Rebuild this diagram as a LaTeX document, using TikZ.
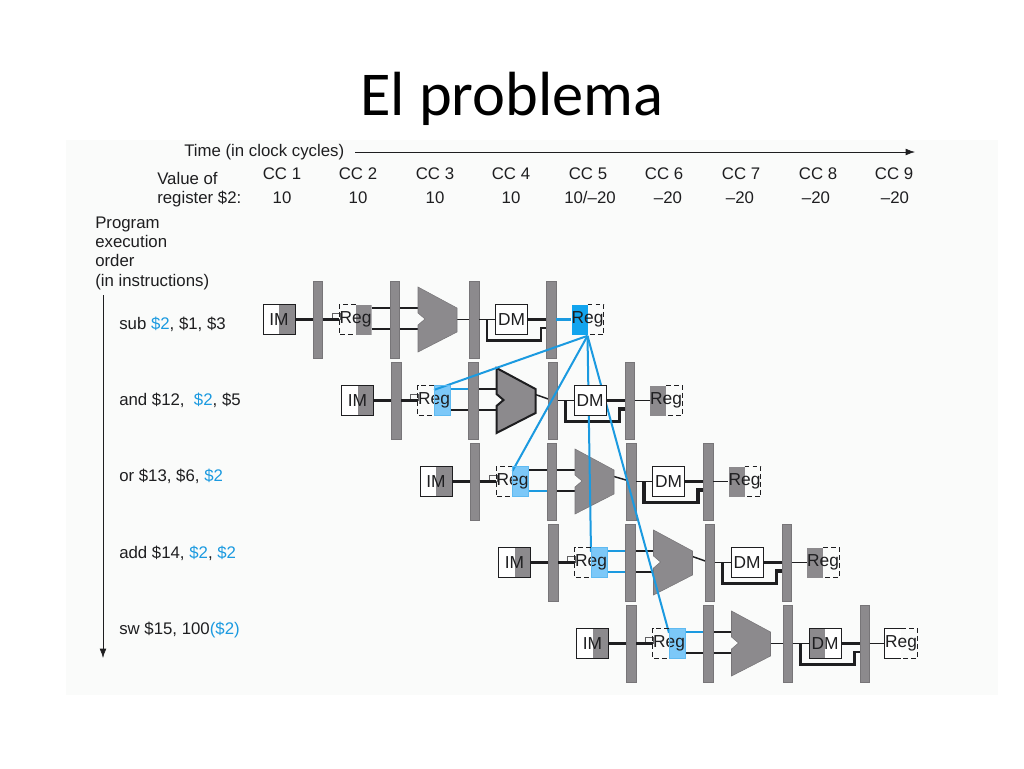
\documentclass[tikz,border=0pt]{standalone}
\usepackage{fontspec}
\usetikzlibrary{arrows.meta}
\setmainfont{Liberation Sans}
\newfontfamily\titlefont{Carlito}
\definecolor{ink}{HTML}{1E1E20}
\definecolor{barg}{HTML}{8C8A8D}
\definecolor{fblue}{HTML}{1B9AE0}
\definecolor{dblue}{HTML}{12A4EE}
\definecolor{lblue}{HTML}{7CC8F8}
\definecolor{panel}{HTML}{FAFBFA}
\newcommand{\bl}[1]{\textcolor{fblue}{#1}}
\tikzset{
  txt/.style={font=\fontsize{12.6pt}{14pt}\selectfont,text=ink,inner sep=0pt,anchor=base west},
  ctxt/.style={font=\fontsize{12.6pt}{14pt}\selectfont,text=ink,inner sep=0pt,anchor=base},
  pbar/.style={fill=barg,draw=barg!85!black,line width=.3pt,minimum width=7.2pt,minimum height=57.5pt,inner sep=0pt},
  unit/.style={minimum width=24pt,minimum height=22.5pt,inner sep=0pt},
  memo/.style={unit,draw=ink,line width=.5pt,fill=white},
  halfR/.style={path picture={\fill[fill=#1] (path picture bounding box.north) rectangle (path picture bounding box.south east);}},
  halfL/.style={path picture={\fill[fill=#1] (path picture bounding box.north west) rectangle (path picture bounding box.south);}},
  unittext/.style={font=\fontsize{13pt}{14pt}\selectfont,text=ink,inner sep=0pt},
  wire/.style={draw=ink,line width=1.6pt},
  inwire/.style={draw=ink,line width=1.9pt},
  thinwire/.style={draw=ink,line width=1.1pt},
  bwire/.style={draw=fblue,line width=1.9pt},
  alu/.style={fill=barg,draw=barg!85!black,line width=.4pt},
  boldalu/.style={fill=barg,draw=ink,line width=1.5pt},
  dashbox/.style={draw=ink,line width=.45pt,dash pattern=on 3.5pt off 2.5pt},
  fwd/.style={draw=fblue,line width=1.5pt},
}
\begin{document}
\begin{tikzpicture}[x=0.75pt,y=-0.75pt]
\useasboundingbox (0,0) rectangle (1024,768);
\fill[panel] (66,140) rectangle (998,695);
\node[anchor=base,inner sep=0pt,font=\titlefont\fontsize{46.8pt}{52pt}\selectfont,text=black] (title) at (512,115) {El problema};

\node[txt] (time) at (184,156) {Time (in clock cycles)};
\coordinate (timeend) at (915,152);
\coordinate (timestart) at (355,152);
\draw[ink,line width=.5pt,-{Latex[length=7pt,width=5pt]}] (timestart) -- (timeend);
\node[txt] (val1) at (157,184) {Value of};
\node[txt] (val2) at (157,203) {register \$2:};
\foreach \n/\x in {1/282,2/358,3/435,4/511,5/588,6/664,7/741,8/818,9/894}
  \node[ctxt] (cc\n) at (\x,179) {CC \n};
\foreach \n/\x/\v in {1/282/10,2/358/10,3/435/10,4/511/10,5/590/{10/--20},6/668/--20,7/740/--20,8/816/--20,9/895/--20}
  \node[ctxt] (v\n) at (\x,203) {\v};
\node[txt] (pa) at (95,228) {Program};
\node[txt] (pb) at (95,247) {execution};
\node[txt] (pc) at (95,266) {order};
\node[txt] (pd) at (95,286) {(in instructions)};
\coordinate (otop) at (103,295);
\coordinate (obot) at (103,658);
\draw[ink,line width=.5pt,-{Latex[length=7pt,width=5pt]}] (otop) -- (obot);
\node[txt] (i1) at (119,329) {sub \bl{\$2}, \$1, \$3};
\node[txt] (i2) at (119,405) {and \$12,\ \ \bl{\$2}, \$5};
\node[txt] (i3) at (119,481) {or \$13, \$6, \bl{\$2}};
\node[txt] (i4) at (119,558) {add \$14, \bl{\$2}, \bl{\$2}};
\node[txt] (i5) at (119,634) {sw \$15, 100\bl{(\$2)}};

% read and write register fills, and coordinates
\foreach \i/\dx/\dy/\rf/\wf/\sk in {
  1/0/0/barg/dblue/0,
  2/78.5/81/lblue/barg/6,
  3/157/162/lblue/barg/5,
  4/235.5/243/lblue/barg/6,
  5/313.5/324/lblue/white/0}
{
\begin{scope}[shift={(\dx,\dy)}]
  \coordinate (aT\i) at (418,308);
  \coordinate (aB\i) at (418,329);
  \coordinate (aO\i) at (457,319.5-\sk);
  \draw[ink!70,line width=.35pt] (332,313) rectangle (340,319);
  \node[unit,halfR=\rf] (reg\i) at (355.5,319.5) {};
  \node[unit,halfL=\wf] (wb\i) at (587.5,319.5) {};
  \foreach \b/\x in {1/317.5,2/394.5,3/474,4/551}
    \coordinate (barc\b r\i) at (\x,319.5);
\end{scope}
}

% wires behind the bars
\foreach \i/\tw/\bw in {1/inwire/inwire,2/bwire/thinwire,3/inwire/bwire,4/bwire/bwire,5/bwire/inwire} {
  \draw[\tw] (reg\i.east |- aT\i) -- (aT\i -| barc2r\i);
  \draw[\bw] (reg\i.east |- aB\i) -- (aB\i -| barc2r\i);
  \draw[inwire] (aT\i -| barc2r\i) -- (aT\i);
  \draw[inwire] (aB\i -| barc2r\i) -- (aB\i);
  \draw[thinwire] (aO\i) -- (barc3r\i);
}

% bars and ALUs
\foreach \i/\dx/\dy/\als in {
  1/0/0/alu,
  2/78.5/81/boldalu,
  3/157/162/alu,
  4/235.5/243/alu,
  5/313.5/324/alu}
{
\begin{scope}[shift={(\dx,\dy)}]
  \foreach \b/\x in {1/317.5,2/394.5,3/474,4/551}
    \node[pbar] (bar\b r\i) at (\x,319.5) {};
  \filldraw[\als] (418,287) -- (457,308) -- (457,332) -- (418,352) -- (418,325) -- (425,319) -- (418,313) -- cycle;
  \coordinate (by\i) at (487,319.5);
\end{scope}
}

% bypass wires and the link from the ALU to the data memory
\foreach \i/\dx/\dy/\bw in {
  1/0/0/1.9pt,
  2/78.5/81/2.5pt,
  3/157/162/2.5pt,
  4/235.5/243/2.5pt,
  5/313.5/324/1.9pt}
{
\begin{scope}[shift={(\dx,\dy)}]
  \draw[draw=ink,line width=\bw] (by\i) -- (487,340.5) -- (541,340.5) -- (541,328) -- (546,328);
  \draw[thinwire] (bar3r\i.east) -- (511.5,319.5);
\end{scope}
}

% forwarding lines
\coordinate (src) at ([yshift=-.8pt]wb1.south);
\foreach \i in {2,3,4,5}
  \draw[fwd] (src) -- ([yshift=-3.5pt]reg\i.north);

% boxes on top of the forwarding lines
\foreach \i/\dx/\dy/\df in {
  1/0/0/white,
  2/78.5/81/white,
  3/157/162/white,
  4/235.5/243/white,
  5/313.5/324/barg}
{
\begin{scope}[shift={(\dx,\dy)}]
  \node[memo,halfR=barg] (im\i) at (279,319.5) {};
  \draw[wire] (im\i.east) -- (bar1r\i.west);
  \draw[wire] (bar1r\i.east) -- (reg\i.west);
  \node[memo,halfL=\df] (dm\i) at (511.5,319.5) {};
  \draw[wire] (dm\i.east) -- (bar4r\i.west);
  \ifnum\i=1
    \draw[bwire] (bar4r\i.east) -- (wb\i.west);
  \else
    \draw[thinwire] (bar4r\i.east) -- (wb\i.west);
  \fi
\end{scope}
}

\foreach \i in {1,...,5} {
  \draw[dashbox] (reg\i.north) -- (reg\i.north west) -- (reg\i.south west) -- (reg\i.south);
  \draw[dashbox] (wb\i.north) -- (wb\i.north east) -- (wb\i.south east) -- (wb\i.south);
  \node[unittext] (regt\i) at (reg\i) {Reg};
  \node[unittext] (wbt\i) at (wb\i) {Reg};
  \node[unittext] (imt\i) at (im\i) {IM};
  \node[unittext] (dmt\i) at (dm\i) {DM};
}
\draw[ink,line width=.45pt] (wb5.north) -- (wb5.north west) -- (wb5.south west) -- (wb5.south);
\foreach \i in {2,3,4,5}
  \draw[lblue!70!fblue,line width=.5pt] (reg\i.north) rectangle (reg\i.south east);
\end{tikzpicture}
\end{document}
